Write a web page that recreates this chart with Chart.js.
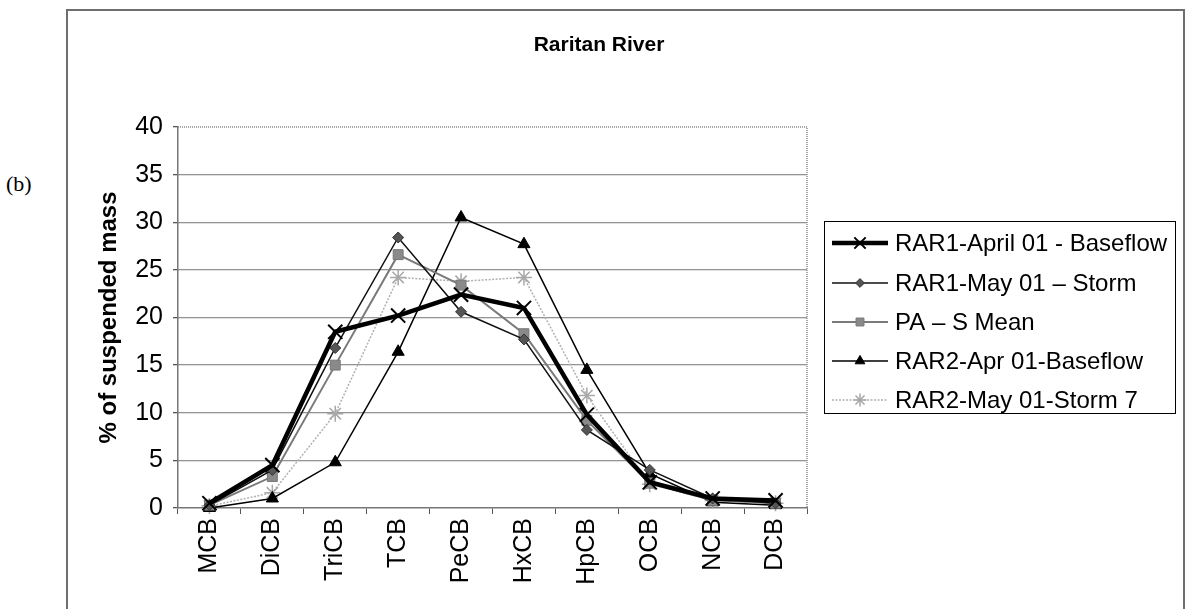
<!DOCTYPE html>
<html>
<head>
<meta charset="utf-8">
<script src="https://cdn.jsdelivr.net/npm/chart.js@4/dist/chart.umd.min.js"></script>
<style>
  html, body { margin: 0; padding: 0; background: #fff; }
  #wrap { position: relative; width: 1198px; height: 609px; overflow: hidden; }
  #frame { position: absolute; left: 66px; top: 9px; width: 1115px; height: 640px;
           border: 2px solid #6e6e6e; border-bottom: none; box-sizing: content-box; }
  #lab { position: absolute; left: 6px; top: 171px; font-family: "Liberation Serif", "Times New Roman", serif;
         font-size: 22px; color: #000; }
  canvas { position: absolute; left: 0; top: 0; }
</style>
</head>
<body>
<div id="wrap">
  <div id="frame"></div>
  <div id="lab">(b)</div>
  <canvas id="c" width="1198" height="609"></canvas>
</div>
<script>
const categories = ["MCB", "DiCB", "TriCB", "TCB", "PeCB", "HxCB", "HpCB", "OCB", "NCB", "DCB"];
const rar1AprilBaseflow = [0.5, 4.5, 18.5, 20.2, 22.4, 21.0, 9.8, 2.7, 1.0, 0.8];
const rar1MayStorm      = [0.3, 4.0, 16.8, 28.4, 20.6, 17.7, 8.2, 4.0, 1.0, 0.5];
const paSMean           = [0.3, 3.3, 15.0, 26.6, 23.4, 18.3, 9.2, 2.6, 0.8, 0.5];
const rar2AprBaseflow   = [0.0, 1.0, 4.8, 16.4, 30.5, 27.7, 14.5, 3.6, 0.6, 0.3];
const rar2MayStorm7     = [0.2, 1.6, 9.9, 24.2, 23.8, 24.2, 11.8, 2.5, 0.8, 0.5];
const seriesNames = ["RAR1-April 01 - Baseflow", "RAR1-May 01 \u2013 Storm", "PA \u2013 S Mean",
                     "RAR2-Apr 01-Baseflow", "RAR2-May 01-Storm 7"];
const yTicks = [0, 5, 10, 15, 20, 25, 30, 35, 40];
const chartTitle = 'Raritan River';

const FONT = "'Liberation Sans', Arial, sans-serif";

const datasets = [
  { label: seriesNames[0], data: rar1AprilBaseflow, borderColor: '#000', borderWidth: 4.5,
    pointStyle: 'crossRot', pointRadius: 10, pointBorderWidth: 2, pointBorderColor: '#000', pointBackgroundColor: '#000' },
  { label: seriesNames[1], data: rar1MayStorm, borderColor: '#111', borderWidth: 1.5,
    pointStyle: 'rectRot', pointRadius: 5.5, pointBorderWidth: 1, pointBorderColor: '#333', pointBackgroundColor: '#555' },
  { label: seriesNames[2], data: paSMean, borderColor: '#7a7a7a', borderWidth: 2,
    pointStyle: 'rect', pointRadius: 7, pointBorderWidth: 1, pointBorderColor: '#777', pointBackgroundColor: '#8a8a8a' },
  { label: seriesNames[3], data: rar2AprBaseflow, borderColor: '#000', borderWidth: 1.5,
    pointStyle: 'triangle', pointRadius: 7, pointBorderWidth: 1, pointBorderColor: '#000', pointBackgroundColor: '#000' },
  { label: seriesNames[4], data: rar2MayStorm7, borderColor: '#b0b0b0', borderWidth: 1.5, borderDash: [2, 1.5],
    pointStyle: 'star', pointRadius: 8, pointBorderWidth: 1.5, pointBorderColor: '#a8a8a8', pointBackgroundColor: '#bbb' }
];
datasets.forEach(d => { d.tension = 0; d.fill = false; d.clip = false; });

const titlePlugin = {
  id: 'centerTitle',
  afterDraw(chart) {
    const ctx = chart.ctx;
    ctx.save();
    ctx.fillStyle = '#000';
    ctx.font = "bold 21px " + FONT;
    ctx.textAlign = 'center';
    ctx.textBaseline = 'middle';
    ctx.fillText(chartTitle, 599, 45);
    ctx.restore();
  }
};

const boxLegend = {
  id: 'boxLegend',
  afterDraw(chart) {
    const ctx = chart.ctx;
    const x0 = 824, y0 = 221, w = 351, h = 192;
    ctx.save();
    ctx.fillStyle = '#fff';
    ctx.fillRect(x0, y0, w, h);
    ctx.strokeStyle = '#000';
    ctx.lineWidth = 1;
    ctx.strokeRect(x0 + 0.5, y0 + 0.5, w, h);
    const ys = [243, 283, 322, 361, 400];
    chart.data.datasets.forEach((d, i) => {
      const y = ys[i];
      ctx.save();
      ctx.strokeStyle = d.borderColor;
      ctx.lineWidth = d.borderWidth;
      ctx.setLineDash(d.borderDash || []);
      ctx.beginPath();
      ctx.moveTo(832, y);
      ctx.lineTo(888, y);
      ctx.stroke();
      ctx.setLineDash([]);
      ctx.strokeStyle = d.pointBorderColor;
      ctx.fillStyle = d.pointBackgroundColor;
      ctx.lineWidth = d.pointBorderWidth;
      Chart.helpers.drawPoint(ctx, { pointStyle: d.pointStyle, radius: d.pointRadius * 0.8, rotation: 0,
                                     borderWidth: d.pointBorderWidth }, 860, y);
      ctx.restore();
      ctx.fillStyle = '#000';
      ctx.font = "24px " + FONT;
      ctx.textBaseline = 'middle';
      ctx.textAlign = 'left';
      ctx.fillText(d.label, 895, y + 1);
    });
    ctx.restore();
  }
};

const plotBorder = {
  id: 'plotBorder',
  afterDraw(chart) {
    const a = chart.chartArea, ctx = chart.ctx;
    ctx.save();
    ctx.strokeStyle = '#8a8a8a';
    ctx.lineWidth = 1.5;
    ctx.setLineDash([1, 1]);
    ctx.beginPath();
    ctx.moveTo(a.left, a.top);
    ctx.lineTo(a.right, a.top);
    ctx.lineTo(a.right, a.bottom);
    ctx.stroke();
    ctx.restore();
  }
};

new Chart(document.getElementById('c'), {
  type: 'line',
  data: { labels: categories, datasets },
  plugins: [plotBorder, boxLegend, titlePlugin],
  options: {
    responsive: false,
    animation: false,
    layout: { padding: { left: 95, right: 391, top: 127, bottom: 0 } },
    plugins: {
      legend: { display: false },
      tooltip: { enabled: false },
      title: { display: false }
    },
    scales: {
      x: {
        type: 'category',
        offset: true,
        grid: { display: true, drawOnChartArea: false, drawTicks: true, tickLength: 6, offset: true, color: '#555' },
        border: { display: true, color: '#777', width: 1.5, dash: [1, 1] },
        ticks: { color: '#000', maxRotation: 90, minRotation: 90, padding: 4, autoSkip: false,
                 font: { family: FONT, size: 25 } },
        afterFit(s) { s.height = 101; }
      },
      y: {
        min: 0, max: 40,
        afterBuildTicks(s) { s.ticks = yTicks.map(v => ({ value: v })); },
        grid: {
          color: ctx => (ctx.tick && (ctx.tick.value === 40 || ctx.tick.value === 0)) ? 'rgba(0,0,0,0)' : '#2a2a2a',
          lineWidth: 1.3, drawTicks: true, tickLength: 5, tickColor: '#555'
        },
        border: { display: true, color: '#777', width: 1.5, dash: [1, 1] },
        ticks: { color: '#000', padding: 10, font: { family: FONT, size: 25 } },
        title: { display: true, text: '% of suspended mass', color: '#000', padding: 0,
                 font: { family: FONT, size: 24, weight: 'bold' } },
        afterFit(s) { s.width = 83; }
      }
    }
  }
});
</script>
</body>
</html>
